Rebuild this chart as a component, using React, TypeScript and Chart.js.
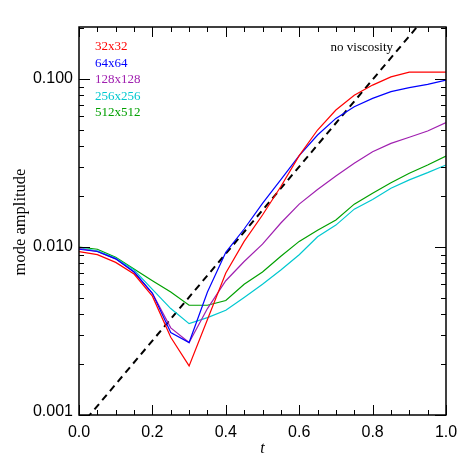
import React, { useEffect, useRef } from "react";
import { Chart, registerables } from "chart.js";

Chart.register(...registerables);

const times = [0, 0.05, 0.1, 0.15, 0.2, 0.25, 0.3, 0.35, 0.4, 0.45, 0.5, 0.55, 0.6, 0.65, 0.7, 0.75, 0.8, 0.85, 0.9, 0.95, 1.0];

const res32 = [0.0094, 0.0090, 0.0081, 0.0069, 0.0051, 0.0029, 0.00196, 0.0037, 0.0070, 0.0108, 0.0155, 0.0229, 0.0350, 0.0497, 0.0654, 0.080, 0.092, 0.103, 0.110, 0.110, 0.110];
const res64 = [0.0097, 0.0094, 0.0085, 0.0071, 0.0053, 0.0031, 0.0027, 0.0054, 0.0093, 0.0128, 0.0182, 0.0252, 0.0350, 0.0464, 0.0583, 0.0684, 0.0767, 0.0841, 0.0888, 0.0929, 0.0986];
const res128 = [0.0098, 0.0094, 0.0085, 0.0071, 0.0053, 0.0033, 0.0027, 0.0043, 0.0063, 0.0082, 0.0104, 0.0139, 0.0180, 0.0220, 0.0265, 0.0315, 0.0369, 0.0414, 0.0450, 0.0490, 0.0550];
const res256 = [0.0099, 0.0095, 0.0086, 0.0073, 0.0056, 0.0043, 0.0035, 0.0038, 0.0042, 0.0050, 0.0060, 0.0073, 0.0090, 0.0115, 0.0135, 0.0168, 0.0192, 0.0224, 0.0251, 0.0277, 0.0308];
const res512 = [0.0100, 0.0097, 0.0087, 0.0074, 0.0063, 0.0054, 0.0045, 0.0045, 0.0048, 0.0060, 0.0071, 0.0088, 0.0108, 0.0126, 0.0145, 0.0180, 0.0209, 0.0241, 0.0275, 0.0308, 0.0348];

const inviscidT = [0, 1];
const inviscidAmp = [0.00084, 0.327];

const seriesLabels = ["32x32", "64x64", "128x128", "256x256", "512x512"];
const seriesColors = ["#ff0000", "#0000ff", "#a020b0", "#00c8d0", "#00a000"];
const seriesData = [res32, res64, res128, res256, res512];

const xTickValues = [0, 0.2, 0.4, 0.6, 0.8, 1.0];
const xTickLabels = ["0.0", "0.2", "0.4", "0.6", "0.8", "1.0"];
const yTickValues = [0.001, 0.01, 0.1];
const yTickLabels = ["0.001", "0.010", "0.100"];
const xTitle = "t";
const yTitle = "mode amplitude";
const noteText = "no viscosity";

const X_MIN = 0;
const X_MAX = 1;
const Y_MIN = 0.001;
const Y_MAX = 0.204;

const framePlugin = {
  id: "idlFrame",
  afterDraw(chart: any) {
    const { ctx, chartArea, scales } = chart;
    const { left, right, top, bottom } = chartArea;
    const xs = scales.x;
    const ys = scales.y;
    ctx.save();
    ctx.strokeStyle = "#000";
    ctx.lineWidth = 1.5;
    ctx.strokeRect(left, top, right - left, bottom - top);

    ctx.lineWidth = 1;
    ctx.beginPath();
    for (let i = 0; i <= 20; i++) {
      const v = i / 20;
      const px = Math.round(xs.getPixelForValue(v)) + 0.5;
      const len = i % 4 === 0 ? 10 : 5;
      ctx.moveTo(px, bottom);
      ctx.lineTo(px, bottom - len);
      ctx.moveTo(px, top);
      ctx.lineTo(px, top + len);
    }
    for (const dec of yTickValues) {
      for (let k = 1; k <= 9; k++) {
        const v = dec * k;
        if (v > Y_MAX || v < Y_MIN) continue;
        const py = Math.round(ys.getPixelForValue(v)) + 0.5;
        const len = k === 1 ? 11 : 5;
        ctx.moveTo(left, py);
        ctx.lineTo(left + len, py);
        ctx.moveTo(right, py);
        ctx.lineTo(right - len, py);
      }
    }
    ctx.stroke();

    ctx.fillStyle = "#000";
    ctx.font = "16px 'Liberation Sans', Arial, sans-serif";
    ctx.textAlign = "center";
    ctx.textBaseline = "middle";
    xTickValues.forEach((v, i) => {
      ctx.fillText(xTickLabels[i], xs.getPixelForValue(v), bottom + 18);
    });
    ctx.textAlign = "right";
    yTickValues.forEach((v, i) => {
      const py = Math.min(ys.getPixelForValue(v), bottom - 3);
      ctx.fillText(yTickLabels[i], left - 6, py);
    });

    ctx.font = "italic 16px 'Liberation Serif', 'Times New Roman', serif";
    ctx.textAlign = "center";
    ctx.textBaseline = "alphabetic";
    ctx.fillText(xTitle, (left + right) / 2, bottom + 38);

    ctx.save();
    ctx.translate(21, 222);
    ctx.rotate(-Math.PI / 2);
    ctx.font = "16.5px 'Liberation Serif', 'Times New Roman', serif";
    ctx.textBaseline = "middle";
    ctx.fillText(yTitle, 0, 0);
    ctx.restore();

    ctx.font = "13px 'Liberation Serif', 'Times New Roman', serif";
    ctx.textAlign = "left";
    ctx.textBaseline = "middle";
    seriesLabels.forEach((lab, i) => {
      ctx.fillStyle = seriesColors[i];
      ctx.fillText(lab, left + 16, top + 20 + i * 16.4);
    });
    ctx.fillStyle = "#000";
    ctx.textAlign = "right";
    ctx.fillText(noteText, right - 53, top + 21);
    ctx.restore();
  },
};

export default function App() {
  const canvasRef = useRef<HTMLCanvasElement | null>(null);

  useEffect(() => {
    document.body.style.margin = "0";
    const canvas = canvasRef.current;
    if (!canvas) return;
    const datasets: any[] = seriesData.map((arr, i) => ({
      label: seriesLabels[i],
      data: times.map((t, j) => ({ x: t, y: arr[j] })),
      borderColor: seriesColors[i],
      backgroundColor: seriesColors[i],
      borderWidth: 1.2,
      pointRadius: 0,
      tension: 0,
      fill: false,
    }));
    datasets.push({
      label: noteText,
      data: inviscidT.map((t, j) => ({ x: t, y: inviscidAmp[j] })),
      borderColor: "#000",
      borderWidth: 2,
      borderDash: [7, 5],
      pointRadius: 0,
      fill: false,
    });

    const chart = new Chart(canvas, {
      type: "line",
      data: { datasets },
      options: {
        responsive: false,
        animation: false,
        devicePixelRatio: 1,
        layout: { padding: { left: 79, right: 26, top: 27, bottom: 57 } },
        plugins: { legend: { display: false }, tooltip: { enabled: false }, title: { display: false } },
        scales: {
          x: { type: "linear", min: X_MIN, max: X_MAX, display: false },
          y: { type: "logarithmic", min: Y_MIN, max: Y_MAX, display: false },
        },
      },
      plugins: [framePlugin],
    } as any);
    return () => chart.destroy();
  }, []);

  return (
    <div style={{ width: 472, height: 472, background: "#fff" }}>
      <canvas ref={canvasRef} width={472} height={472} />
    </div>
  );
}
